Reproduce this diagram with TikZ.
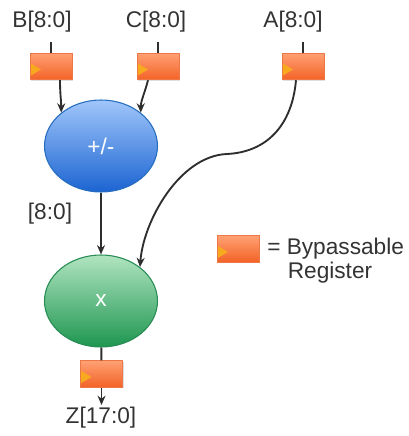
\documentclass[tikz,border=0pt]{standalone}
\usepackage{fontspec}
\setmainfont{Liberation Sans}
\usepackage{tikz}
\usetikzlibrary{arrows.meta,shadows,calc,shapes.geometric}

\definecolor{txtgray}{RGB}{51,51,51}
\definecolor{regtop}{RGB}{255,160,115}
\definecolor{regbot}{RGB}{243,98,38}
\definecolor{regline}{RGB}{235,120,70}
\definecolor{clkfill}{RGB}{247,170,30}
\definecolor{addtop}{RGB}{160,198,250}
\definecolor{addbot}{RGB}{28,100,210}
\definecolor{addline}{RGB}{40,110,190}
\definecolor{multop}{RGB}{176,228,192}
\definecolor{mulbot}{RGB}{30,150,80}
\definecolor{mulline}{RGB}{40,140,85}

\tikzset{
  reg/.style={rectangle, draw=regline, line width=0.6pt, top color=regtop, bottom color=regbot,
    minimum width=31.5pt, minimum height=20pt, inner sep=0pt,
    drop shadow={opacity=0.25, shadow xshift=0.8pt, shadow yshift=-0.8pt},
    path picture={\fill[clkfill] ($(path picture bounding box.west)+(0,3.5)$) -- ++(11,-6.5) -- ++(-11,-6.5) -- cycle;}},
  addop/.style={ellipse, draw=addline, line width=0.8pt, top color=addtop, bottom color=addbot,
    minimum width=84.75pt, minimum height=69pt, inner sep=0pt, text=white},
  mulop/.style={ellipse, draw=mulline, line width=0.8pt, top color=multop, bottom color=mulbot,
    minimum width=84.75pt, minimum height=69pt, inner sep=0pt, text=white},
  lbl/.style={text=txtgray, inner sep=0pt},
  conn/.style={draw=txtgray!90!black, line width=1.4pt, -{Stealth[length=7pt,width=6pt]}},
  wire/.style={draw=txtgray!90!black, line width=1.4pt}
}

\begin{document}
\fontsize{17}{20}\selectfont
\begin{tikzpicture}[x=0.75pt,y=0.75pt,yscale=-1,xscale=1]
\useasboundingbox (0,0) rectangle (408,436);

% inputs
\node[lbl] (lblB) at (42,22) {B[8:0]};
\node[lbl] (lblC) at (156,22) {C[8:0]};
\node[lbl] (lblA) at (293,22) {A[8:0]};

% registers
\node[reg] (regB) at (51,66.5) {};
\node[reg] (regC) at (158,66.5) {};
\node[reg] (regA) at (303,66.5) {};
\node[reg] (regZ) at (101.5,374) {};
\node[reg] (regKey) at (238,249) {};

% operators
\node[addop] (addsub) at (101,146) {+/-};
\node[mulop] (mult) at (101,301) {x};

% labels
\node[lbl] (lblMid) at (50,214) {[8:0]};
\node[lbl] (lblZ) at (101,418) {Z[17:0]};
\node[lbl, anchor=west] (keyText) at (267,249) {= Bypassable};
\node[lbl] (keyText2) at (330,273) {Register};

% input wires
\draw[wire] (regB.north) -- ++(0,-11);
\draw[wire] (regC.north) -- ++(0,-11);
\draw[wire] (regA.north) -- ++(0,-11);

% connections
\draw[conn] ([xshift=6.75pt]regB.south) .. controls +(0,14) and +(0,-12) .. (addsub.140);
\draw[conn] ([xshift=-7.5pt]regC.south) .. controls +(-3,12) and +(0,-12) .. (addsub.40);
\coordinate (bend) at (227,154);
\draw[conn] ([xshift=-5.25pt]regA.south) .. controls +(-4,45) and +(40,-2) .. (bend)
  .. controls +(-48,2) and +(3,-45) .. (mult.41);
\draw[conn] (addsub) -- (mult);
\draw[wire] (mult) -- (regZ);
\coordinate (zout) at (101.5,405);
\draw[conn] (regZ) -- (zout);

\end{tikzpicture}
\end{document}
